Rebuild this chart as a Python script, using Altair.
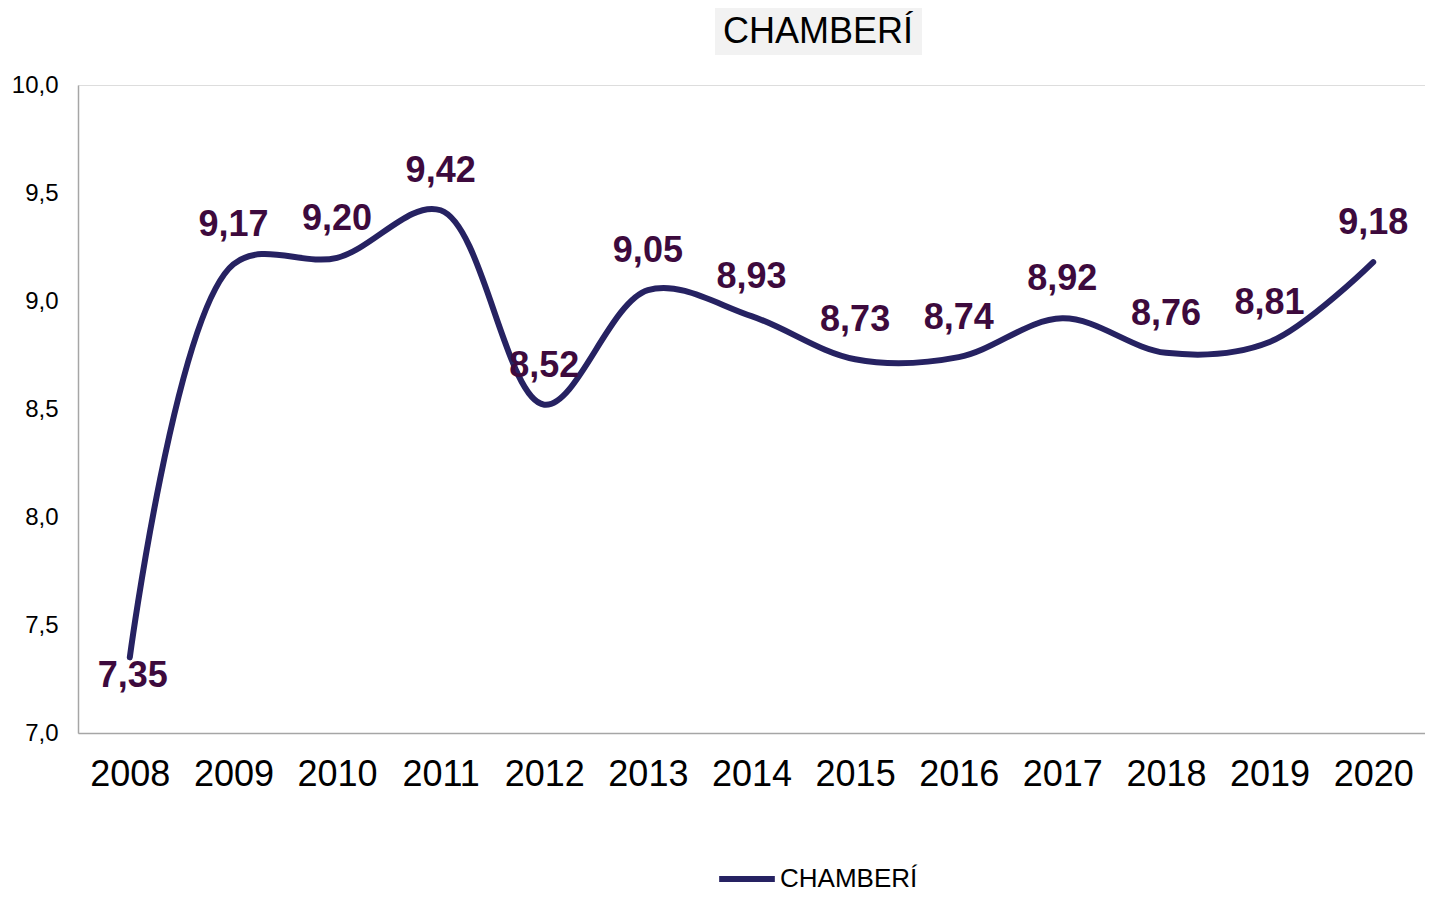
import altair as alt
import pandas as pd

years = ["2008", "2009", "2010", "2011", "2012", "2013", "2014",
         "2015", "2016", "2017", "2018", "2019", "2020"]
values = [7.35, 9.17, 9.20, 9.42, 8.52, 9.05, 8.93,
          8.73, 8.74, 8.92, 8.76, 8.81, 9.18]
series_name = "CHAMBERÍ"
title_text = "CHAMBERÍ"
labels_below = ["2008"]

df = pd.DataFrame({"year": years, "value": values, "series": series_name})

LINE = "#262262"
LABEL = "#3d0a3d"
FONT = "Liberation Sans"

x_enc = alt.X("year:O", scale=alt.Scale(type="point", padding=0.5),
              axis=alt.Axis(title=None, labelAngle=0, labelFontSize=36,
                            labelColor="#000000", labelFont=FONT, ticks=False,
                            labelPadding=24, domainColor="#a6a6a6",
                            domainWidth=1.5))
y_enc = alt.Y("value:Q", scale=alt.Scale(domain=[7, 10], nice=False, zero=False),
              axis=alt.Axis(title=None, values=[7, 7.5, 8, 8.5, 9, 9.5, 10],
                            labelExpr="replace(format(datum.value, '.1f'), '.', ',')",
                            labelFontSize=24, labelColor="#000000", labelFont=FONT,
                            ticks=False, grid=False, labelPadding=20,
                            domainColor="#a6a6a6", domainWidth=1.5))

base = alt.Chart(df)

line = base.mark_line(interpolate="catmull-rom", strokeWidth=6,
                      strokeCap="round").encode(
    x=x_enc, y=y_enc,
    color=alt.Color("series:N", scale=alt.Scale(range=[LINE]),
                    legend=alt.Legend(title=None, orient="none", legendX=638,
                                      legendY=763, symbolType="stroke",
                                      symbolSize=3100, symbolStrokeWidth=6,
                                      labelFontSize=26, labelFont=FONT,
                                      labelColor="#000000", labelOffset=2))
)

lab = base.transform_calculate(
    label="replace(format(datum.value, '.2f'), '.', ',')"
)

text_above = lab.transform_filter(
    "indexof(" + str(labels_below) + ", datum.year) < 0"
).mark_text(fontSize=36, fontWeight="bold", font=FONT, color=LABEL,
            dy=-39, baseline="middle").encode(
    x="year:O", y="value:Q", text="label:N")

text_below = lab.transform_filter(
    "indexof(" + str(labels_below) + ", datum.year) >= 0"
).mark_text(fontSize=36, fontWeight="bold", font=FONT, color=LABEL,
            dy=19, dx=3, baseline="middle").encode(
    x="year:O", y="value:Q", text="label:N")

title_bg = alt.Chart(pd.DataFrame({"t": [title_text]})).mark_rect(
    color="#f2f2f2").encode(
    x=alt.value(637), x2=alt.value(844), y=alt.value(-78), y2=alt.value(-30))

title = alt.Chart(pd.DataFrame({"t": [title_text]})).mark_text(
    fontSize=36, font=FONT, color="#000000", baseline="middle").encode(
    x=alt.value(740), y=alt.value(-53), text="t:N")

chart = alt.layer(line, text_above, text_below, title_bg, title).properties(
    width=1347, height=648,
    autosize=alt.AutoSizeParams(type="none"),
    padding={"left": 70, "top": 77, "right": 0, "bottom": 163},
).configure_view(stroke=None).configure(background="white")

chart.save("out.html", embed_options={"renderer": "svg", "actions": False})
